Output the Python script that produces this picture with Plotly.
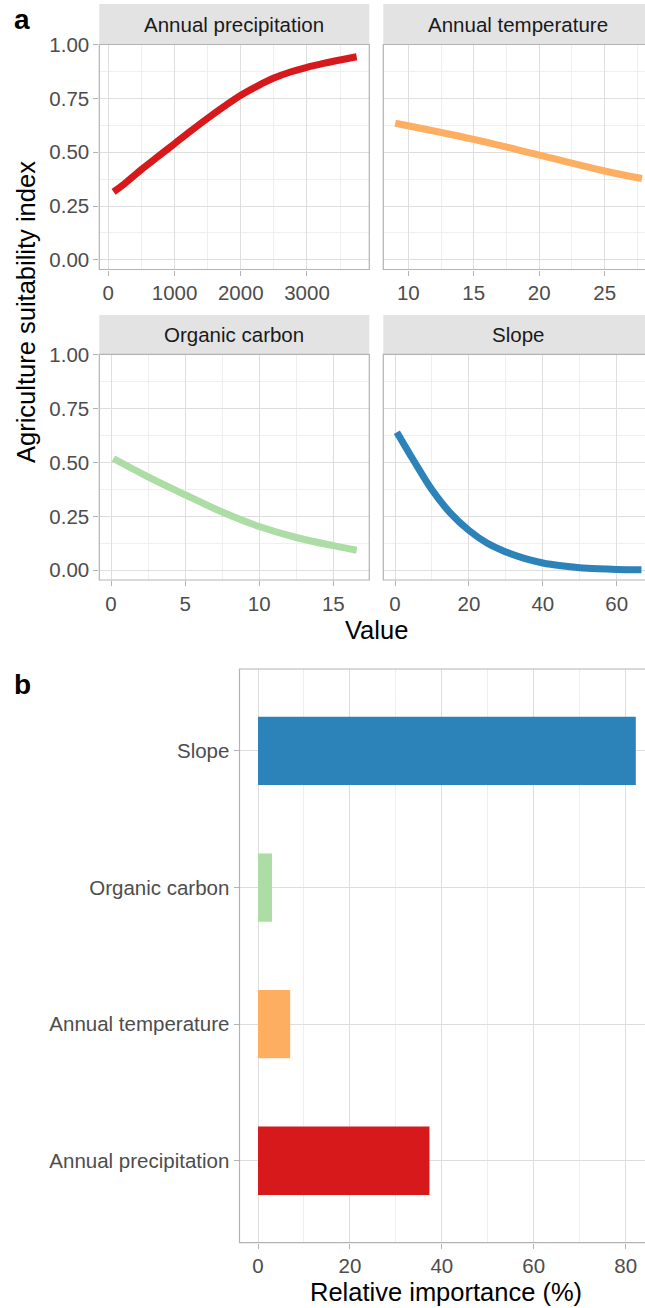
import plotly.graph_objects as go

# ---------------- data ----------------
precip_x = [80, 250, 500, 750, 1000, 1250, 1500, 1750, 2000, 2250, 2500, 2750, 3000, 3250, 3500, 3750]
precip_y = [0.316, 0.355, 0.42, 0.48, 0.54, 0.60, 0.658, 0.713, 0.765, 0.808, 0.845, 0.873, 0.895, 0.913, 0.929, 0.944]

temp_x = [9, 15, 20, 25, 27.85]
temp_y = [0.635, 0.56, 0.487, 0.413, 0.378]

oc_x = [0.16, 2.5, 5, 7.5, 10, 12.5, 15, 16.58]
oc_y = [0.518, 0.433, 0.35, 0.27, 0.203, 0.152, 0.114, 0.093]

slope_x = [0.5, 5, 10, 15, 20, 25, 30, 35, 40, 45, 50, 55, 60, 66.7]
slope_y = [0.64, 0.51, 0.373, 0.265, 0.185, 0.125, 0.085, 0.055, 0.034, 0.021, 0.012, 0.007, 0.004, 0.002]

facet_titles = ["Annual precipitation", "Annual temperature", "Organic carbon", "Slope"]
colors = ["#d7191c", "#fdae61", "#abdda4", "#2b83ba"]

categories = ["Annual precipitation", "Annual temperature", "Organic carbon", "Slope"]
importance = [37.3, 7.0, 3.05, 82.2]

y_ticks = [0, 0.25, 0.5, 0.75, 1.0]

# ---------------- styling ----------------
W, H = 645, 1308
FONT = "Liberation Sans, Arial, sans-serif"
GRID = "#dedede"
MINOR = "#efefef"
BORDER = "#b3b3b3"
TICKC = "#4d4d4d"
TICKF = dict(family=FONT, size=20.5, color=TICKC)


def px_x(v):
    return v / W


def px_y(v):
    return 1 - v / H


col1 = [px_x(99.3), px_x(369.3)]
col2 = [px_x(383.3), 1.0]
row1 = [px_y(269.5), px_y(44.5)]
row2 = [px_y(580), px_y(354.3)]
dom_bx = [px_x(239.5), 1.0]
dom_by = [px_y(1242.7), px_y(669)]

fig = go.Figure()

series = [(precip_x, precip_y), (temp_x, temp_y), (oc_x, oc_y), (slope_x, slope_y)]
for i, (xs, ys) in enumerate(series):
    ax = "" if i == 0 else str(i + 1)
    fig.add_trace(go.Scatter(
        x=xs, y=ys, mode="lines",
        line=dict(color=colors[i], width=7, shape="spline", smoothing=1.0),
        xaxis="x" + ax, yaxis="y" + ax, showlegend=False, hoverinfo="skip"))

fig.add_trace(go.Bar(
    y=categories, x=importance, orientation="h", width=0.5,
    marker=dict(color=colors, line=dict(width=0)),
    xaxis="x5", yaxis="y5", showlegend=False))


def xax(domain, anchor, rng, dtick, minor_dtick):
    return dict(domain=domain, anchor=anchor, range=rng, tick0=0, dtick=dtick,
                showgrid=True, gridcolor=GRID, gridwidth=1,
                minor=dict(tick0=0, dtick=minor_dtick, showgrid=True, gridcolor=MINOR, gridwidth=0.6),
                ticks="outside", ticklen=5, tickcolor=BORDER, tickwidth=1,
                tickfont=TICKF, zeroline=False, showline=False, fixedrange=True,
                automargin=False)


def yax(domain, anchor, labels):
    return dict(domain=domain, anchor=anchor, range=[-0.045, 1.001],
                tickvals=y_ticks, tickformat=".2f",
                showgrid=True, gridcolor=GRID, gridwidth=1,
                minor=dict(tick0=0.125, dtick=0.25, showgrid=True, gridcolor=MINOR, gridwidth=0.6),
                ticks="outside" if labels else "", ticklen=5, tickcolor=BORDER, tickwidth=1,
                showticklabels=labels, tickfont=TICKF, zeroline=False, showline=False,
                fixedrange=True, automargin=False)


layout = dict(
    template="none",
    width=W, height=H, margin=dict(l=0, r=0, t=0, b=0, pad=0), autosize=False,
    paper_bgcolor="white", plot_bgcolor="white",
    font=dict(family=FONT),
    xaxis=xax(col1, "y", [-135.9, 3940.8], 1000, 500),
    yaxis=yax(row1, "x", True),
    xaxis2=xax(col2, "y2", [8.09, 28.08], 5, 2.5),
    yaxis2=yax(row1, "x2", False),
    xaxis3=xax(col1, "y3", [-0.79, 17.43], 5, 2.5),
    yaxis3=yax(row2, "x3", True),
    xaxis4=xax(col2, "y4", [-3.17, 67.66], 20, 10),
    yaxis4=yax(row2, "x4", False),
    xaxis5=xax(dom_bx, "y5", [-4.03, 84.2], 20, 10),
    yaxis5=dict(domain=dom_by, anchor="x5", range=[-0.6, 3.6], type="category",
                categoryorder="array", categoryarray=categories,
                showgrid=True, gridcolor=GRID, gridwidth=1,
                ticks="outside", ticklen=5, tickcolor=BORDER, tickwidth=1,
                tickfont=TICKF, zeroline=False, showline=False, fixedrange=True,
                automargin=False),
)

shapes = []
# panel borders
for (xd, yd) in [(col1, row1), (col2, row1), (col1, row2), (col2, row2), (dom_bx, dom_by)]:
    x1 = xd[1] if xd[1] < 1 else 1.02
    shapes.append(dict(type="rect", xref="paper", yref="paper", x0=xd[0], x1=x1,
                       y0=yd[0], y1=yd[1], line=dict(color=BORDER, width=1.2),
                       fillcolor="rgba(0,0,0,0)", layer="above"))
# strips
strip_rows = [(px_y(44.5), px_y(4)), (px_y(354.3), px_y(315))]
strip_cols = [(col1[0], col1[1]), (col2[0], 1.02)]
annotations = []
text_centers_x = [px_x(234.3), px_x(518)]
text_centers_y = [px_y(24.5), px_y(334.8)]
k = 0
for r in range(2):
    for c in range(2):
        shapes.append(dict(type="rect", xref="paper", yref="paper",
                           x0=strip_cols[c][0], x1=strip_cols[c][1],
                           y0=strip_rows[r][0], y1=strip_rows[r][1],
                           line=dict(width=0), fillcolor="#e3e3e3", layer="below"))
        annotations.append(dict(text=facet_titles[k], xref="paper", yref="paper",
                                x=text_centers_x[c], y=text_centers_y[r],
                                xanchor="center", yanchor="middle", showarrow=False,
                                font=dict(family=FONT, size=20.5, color="#1a1a1a")))
        k += 1

annotations += [
    dict(text="Agriculture suitability index", xref="paper", yref="paper",
         x=px_x(26), y=px_y(312), textangle=-90, showarrow=False,
         xanchor="center", yanchor="middle", font=dict(family=FONT, size=25.5, color="black")),
    dict(text="Value", xref="paper", yref="paper", x=px_x(376), y=px_y(630),
         showarrow=False, xanchor="center", yanchor="middle",
         font=dict(family=FONT, size=25.5, color="black")),
    dict(text="Relative importance (%)", xref="paper", yref="paper", x=px_x(446), y=px_y(1292),
         showarrow=False, xanchor="center", yanchor="middle",
         font=dict(family=FONT, size=25.5, color="black")),
    dict(text="<b>a</b>", xref="paper", yref="paper", x=px_x(12), y=px_y(19.5),
         showarrow=False, xanchor="left", yanchor="middle",
         font=dict(family=FONT, size=28, color="black")),
    dict(text="<b>b</b>", xref="paper", yref="paper", x=px_x(12), y=px_y(685),
         showarrow=False, xanchor="left", yanchor="middle",
         font=dict(family=FONT, size=28, color="black")),
]

layout["shapes"] = shapes
layout["annotations"] = annotations
fig.update_layout(**layout)

fig.write_html("out.html", config={"displayModeBar": False},
               post_script="document.body.style.margin='0';document.body.style.padding='0';"
                           "document.body.style.overflow='hidden';")
